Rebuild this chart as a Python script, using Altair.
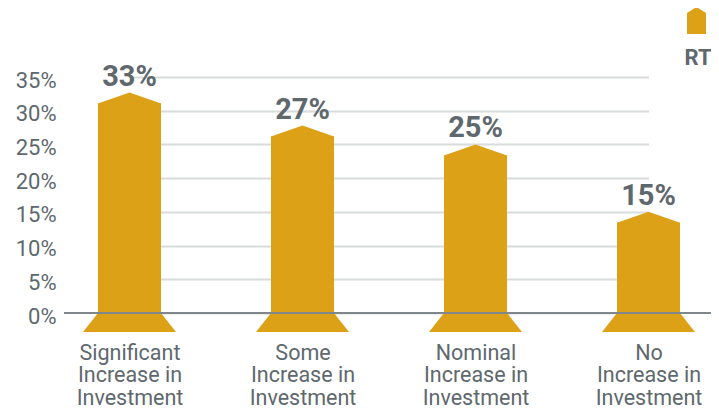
import altair as alt
import pandas as pd

# ---- data ----
categories = [
    "Significant\nIncrease in\nInvestment",
    "Some\nIncrease in\nInvestment",
    "Nominal\nIncrease in\nInvestment",
    "No\nIncrease in\nInvestment",
]
values = [32.7, 27.8, 25.0, 15.0]
value_labels = ["33%", "27%", "25%", "15%"]
y_ticks = [0, 5, 10, 15, 20, 25, 30, 35]
series_name = ["RT"]

df = pd.DataFrame({"category": categories, "value": values, "label": value_labels})
df_leg = pd.DataFrame({"series": series_name})

GOLD = "#DCA116"
GREY = "#5E686D"
FONT = "Roboto"

CAP_PATH = "M-1,0.4L-1,0.349L0,0L1,0.349L1,0.4Z"
FOOT_PATH = "M-1,0L1,0L1.476,0.6L-1.476,0.6Z"
LEG_PATH = "M0,-1L0.704,-0.556L0.704,1L-0.704,1L-0.704,-0.556Z"

x_enc = alt.X(
    "category:N",
    sort=categories,
    scale=alt.Scale(type="point", range=[65.5, 584.5], padding=0),
    axis=alt.Axis(
        title=None,
        labelExpr="split(datum.label, '\\n')",
        labelFont=FONT,
        labelFontSize=21.5,
        labelColor=GREY,
        labelLineHeight=22.5,
        labelBaseline="top",
        labelAngle=0,
        labelPadding=29,
        ticks=False,
        tickSize=0,
        domain=False,
        grid=False,
    ),
)

y_scale = alt.Scale(domain=[0, 35], nice=False, zero=True)
y_axis = alt.Axis(
    title=None,
    values=y_ticks,
    labelExpr="datum.value + '%'",
    labelFont=FONT,
    labelFontSize=22,
    labelColor=GREY,
    labelPadding=8,
    labelOffset=3,
    labelOverlap=False,
    ticks=False,
    tickSize=0,
    domain=False,
    grid=True,
    gridColor="#D8DCDC",
    gridWidth=2,
)
y_enc = alt.Y("value:Q", scale=y_scale, axis=y_axis)
y_zero = alt.YDatum(datum=0, scale=y_scale, axis=y_axis)

base = alt.Chart(df).encode(x=x_enc)

bars = base.mark_bar(color=GOLD, size=63, yOffset=11).encode(y=y_enc, y2=alt.datum(0))

caps = base.mark_point(
    shape=CAP_PATH, size=3969, filled=True, opacity=1, color=GOLD, strokeWidth=0
).encode(y=y_enc)

feet = base.mark_point(
    shape=FOOT_PATH, size=3969, filled=True, opacity=1, color=GOLD, strokeWidth=0
).encode(y=y_zero)

baseline = base.mark_rule(color="#80878A", strokeWidth=2).encode(
    y=y_zero, x=alt.value(0), x2=alt.value("width")
)

texts = base.mark_text(
    font=FONT, fontSize=29, fontWeight="bold", color=GREY, dy=-7, baseline="alphabetic"
).encode(y=y_enc, text="label:N")

leg_sym = alt.Chart(df_leg).mark_point(
    shape=LEG_PATH, size=729, filled=True, opacity=1, color=GOLD, strokeWidth=0
).encode(x=alt.value(632.5), y=alt.value(-56.5))

leg_txt = alt.Chart(df_leg).mark_text(
    font=FONT, fontSize=22, fontWeight="bold", color=GREY, baseline="alphabetic", align="center"
).encode(x=alt.value(634), y=alt.value(-12), text="series:N")

chart = (
    alt.layer(bars, caps, feet, baseline, texts, leg_sym, leg_txt)
    .properties(
        width=647,
        height=236,
        padding={"left": 56, "top": 69, "right": 0, "bottom": 94},
        autosize="none",
        background="white",
    )
    .configure_view(stroke=None)
)

chart.save("out.html", embed_options={"renderer": "svg", "actions": False})
